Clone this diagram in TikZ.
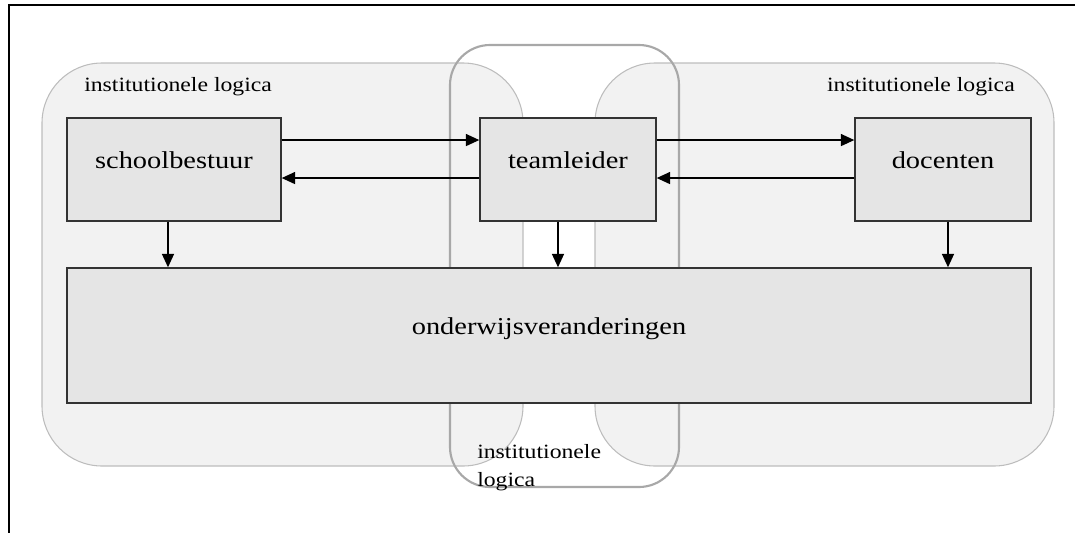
\documentclass[tikz,border=0pt]{standalone}
\usepackage{fontspec}
\setmainfont{Liberation Serif}[FakeStretch=1.17]
\usetikzlibrary{arrows.meta}
\definecolor{regionfill}{HTML}{F2F2F2}
\definecolor{regionline}{HTML}{BDBDBD}
\definecolor{midline}{HTML}{A8A8A8}
\definecolor{boxfill}{HTML}{E5E5E5}
\definecolor{boxline}{HTML}{333333}
\tikzset{
  region/.style={fill=regionfill, draw=regionline, line width=0.8pt, rounded corners=45pt},
  midregion/.style={draw=midline, line width=1.6pt, rounded corners=30pt},
  actor/.style={draw=boxline, fill=boxfill, line width=1.1pt, inner sep=0pt,
    font=\fontsize{18.2}{22}\selectfont, text height=12.4pt, text depth=13.5pt,
    minimum height=77.25pt},
  logiclabel/.style={inner sep=0pt, font=\fontsize{15.2}{21}\selectfont},
  arr/.style={line width=1pt, -{Triangle[length=10pt,width=9pt]}},
  frameline/.style={line width=1.6pt, black}
}
\begin{document}
\begin{tikzpicture}[x=0.75pt,y=-0.75pt]
  \useasboundingbox (0,0) rectangle (1075,533);

  % page frame (top and left edges)
  \coordinate (frameTL) at (9,5);
  \coordinate (frameTR) at (1075,5);
  \coordinate (frameBL) at (9,533);
  \draw[frameline] (frameTR) -- (frameTL) -- (frameBL);

  % the three institutional logic regions
  \draw[region] (42,63) rectangle (523,466);
  \draw[region] (595,63) rectangle (1054,466);
  \draw[midregion] (450,45) rectangle (679,487);

  % region labels
  \node[logiclabel, anchor=base west] (lblL) at (84,91) {institutionele logica};
  \node[logiclabel, anchor=base east] (lblR) at (1015,91) {institutionele logica};
  \node[logiclabel, anchor=north west, align=left] (lblM) at (477,444) {institutionele\\logica};

  % actors
  \node[actor, minimum width=160.5pt] (sb) at (174,169.5) {schoolbestuur};
  \node[actor, minimum width=132pt] (tl) at (568,169.5) {teamleider};
  \node[actor, minimum width=132pt] (dc) at (943,169.5) {docenten};
  \node[actor, minimum width=723pt, minimum height=101.25pt] (ov) at (549,335.5) {onderwijsveranderingen};

  % horizontal exchanges
  \draw[arr] ([yshift=22.1pt]sb.east) -- ([yshift=22.1pt]tl.west);
  \draw[arr] ([yshift=-6.4pt]tl.west) -- ([yshift=-6.4pt]sb.east);
  \draw[arr] ([yshift=22.1pt]tl.east) -- ([yshift=22.1pt]dc.west);
  \draw[arr] ([yshift=-6.4pt]dc.west) -- ([yshift=-6.4pt]tl.east);

  % influence on the educational changes
  \draw[arr] ([xshift=-4.5pt]sb.south) -- ([xshift=-4.5pt]sb.south |- ov.north);
  \draw[arr] ([xshift=-7.5pt]tl.south) -- ([xshift=-7.5pt]tl.south |- ov.north);
  \draw[arr] ([xshift=3.75pt]dc.south) -- ([xshift=3.75pt]dc.south |- ov.north);
\end{tikzpicture}
\end{document}
